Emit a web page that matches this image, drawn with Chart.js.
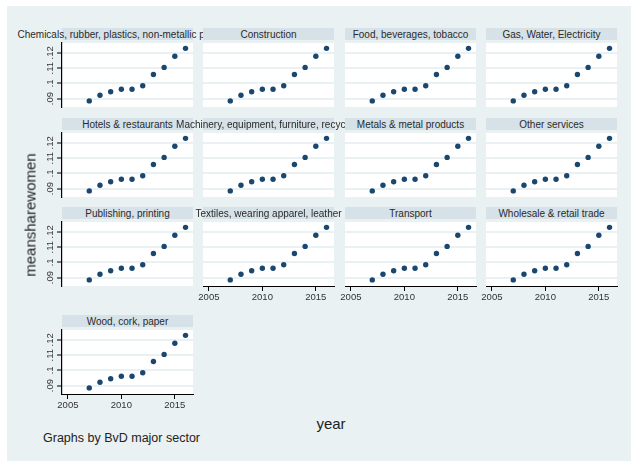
<!DOCTYPE html>
<html>
<head>
<meta charset="utf-8">
<script src="https://cdn.jsdelivr.net/npm/chart.js@4/dist/chart.umd.min.js"></script>
<style>
  body { margin: 0; background: #fff; font-family: "Liberation Sans", Arial, sans-serif; }
  #bg { position: absolute; left: 7px; top: 6px; width: 624px; height: 455px; background: #e9f1f3; }
  .bar { position: absolute; height: 12px; background: #d6e2e8; display: flex; justify-content: center;
         align-items: center; font-size: 10px; color: #2a2a2a; white-space: nowrap; }
  canvas { position: absolute; }
  .lbl { position: absolute; color: #222; white-space: nowrap; }
</style>
</head>
<body>
<div id="bg"></div>
<script>
const sectors = [
  'Chemicals, rubber, plastics, non-metallic products', 'Construction', 'Food, beverages, tobacco', 'Gas, Water, Electricity',
  'Hotels & restaurants', 'Machinery, equipment, furniture, recycling', 'Metals & metal products', 'Other services',
  'Publishing, printing', 'Textiles, wearing apparel, leather', 'Transport', 'Wholesale & retail trade',
  'Wood, cork, paper'
];
const years = [2007, 2008, 2009, 2010, 2011, 2012, 2013, 2014, 2015, 2016];
const meanShareWomen = [0.0885, 0.0922, 0.0945, 0.0961, 0.0961, 0.0984, 0.1058, 0.1105, 0.1178, 0.1230];
const yTicks = [0.09, 0.1, 0.11, 0.12];
const xTicks = [2005, 2010, 2015];

// layout of the 4x4 by-graph
const colLeft = [62, 203, 345, 486];
const rowTop = [43, 133, 222, 330];
const plotW = 131, plotH = 64;
const padL = 30, padT = 4, padR = 6, padB = 22;

const panelPlugin = {
  id: 'panel',
  beforeDraw(chart) {
    const a = chart.chartArea, ctx = chart.ctx;
    ctx.save();
    ctx.fillStyle = '#fff';
    ctx.fillRect(a.left, a.top, a.right - a.left, a.bottom - a.top);
    ctx.restore();
  },
  afterDraw(chart, args, opts) {
    if (!opts.showY) return;
    const y = chart.scales.y, ctx = chart.ctx;
    ctx.save();
    ctx.font = '9.5px "Liberation Sans", Arial';
    ctx.fillStyle = '#333';
    ctx.textAlign = 'center';
    ctx.textBaseline = 'middle';
    y.ticks.forEach(t => {
      ctx.save();
      ctx.translate(chart.chartArea.left - 12, y.getPixelForValue(t.value));
      ctx.rotate(-Math.PI / 2);
      ctx.fillText(String(t.value).replace(/^0/, ''), 0, 0);
      ctx.restore();
    });
    ctx.restore();
  }
};

sectors.forEach((name, i) => {
  const row = Math.floor(i / 4), col = i % 4;
  const showY = col === 0;
  const showX = i + 4 >= sectors.length;
  const left = colLeft[col], top = rowTop[row];

  const bar = document.createElement('div');
  bar.className = 'bar';
  bar.style.left = left + 'px';
  bar.style.top = (top - 15) + 'px';
  bar.style.width = plotW + 'px';
  bar.textContent = name;
  document.body.appendChild(bar);

  const cv = document.createElement('canvas');
  cv.width = padL + plotW + padR;
  cv.height = padT + plotH + padB;
  cv.style.left = (left - padL) + 'px';
  cv.style.top = (top - padT) + 'px';
  document.body.appendChild(cv);

  new Chart(cv.getContext('2d'), {
    type: 'scatter',
    data: {
      datasets: [{
        data: years.map((yr, k) => ({ x: yr, y: meanShareWomen[k] })),
        backgroundColor: '#1a476f',
        borderColor: '#1a476f',
        pointRadius: 2.7,
        borderWidth: 0,
        clip: false
      }]
    },
    options: {
      responsive: false,
      animation: false,
      events: [],
      layout: { padding: { left: 0, top: padT, right: padR, bottom: 0 } },
      plugins: { legend: { display: false }, tooltip: { enabled: false }, panel: { showY } },
      scales: {
        x: {
          type: 'linear', min: 2004.45, max: 2016.7,
          afterBuildTicks: s => { s.ticks = xTicks.map(v => ({ value: v })); },
          afterFit: s => { s.height = padB; },
          border: { display: showX, color: '#000', width: 1 },
          grid: { display: showX, drawOnChartArea: false, drawTicks: true, tickLength: 5, tickColor: '#000', tickWidth: 1 },
          ticks: { display: showX, maxRotation: 0, padding: 1, color: '#333',
                   font: { family: '"Liberation Sans", Arial', size: 9.5 }, callback: v => String(v) }
        },
        y: {
          min: 0.0845, max: 0.1265,
          afterBuildTicks: s => { s.ticks = yTicks.map(v => ({ value: v })); },
          afterFit: s => { s.width = padL; },
          border: { display: showY, color: '#000', width: 1.2 },
          grid: { color: '#e9f1f3', lineWidth: 2, drawTicks: showY, tickLength: 5, tickColor: '#000', tickWidth: 1 },
          ticks: { display: false }
        }
      }
    },
    plugins: [panelPlugin]
  });
});

function addLabel(text, css) {
  const d = document.createElement('div');
  d.className = 'lbl';
  d.textContent = text;
  Object.assign(d.style, css);
  document.body.appendChild(d);
}
addLabel('meansharewomen', { left: '30px', top: '215px', fontSize: '15px', transform: 'translate(-50%, -50%) rotate(-90deg)' });
addLabel('year', { left: '331px', top: '423px', fontSize: '15px', transform: 'translate(-50%, -50%)' });
addLabel('Graphs by BvD major sector', { left: '43px', top: '431px', fontSize: '12.5px' });
</script>
</body>
</html>
